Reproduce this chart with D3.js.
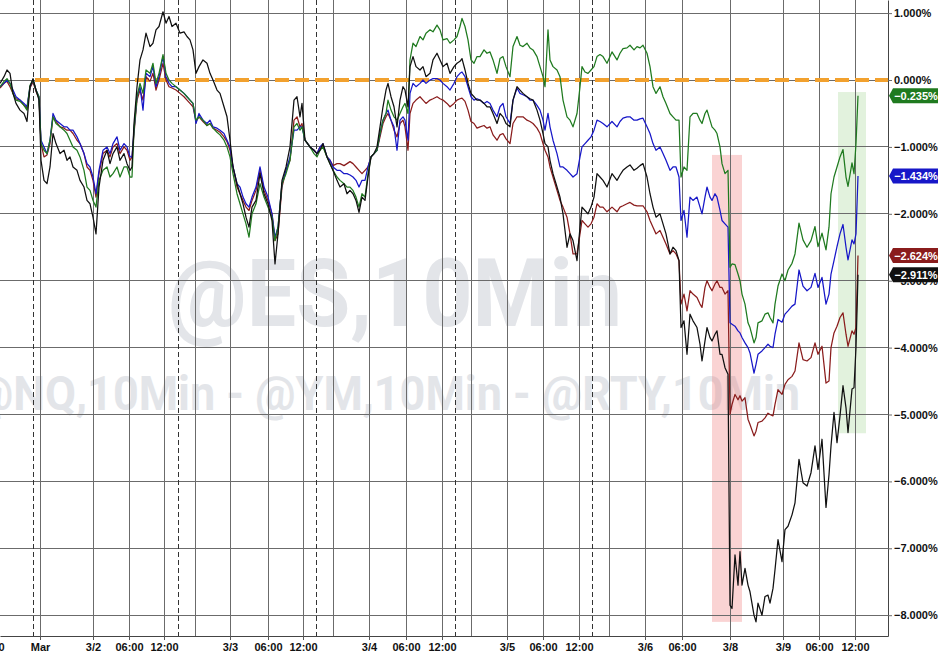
<!DOCTYPE html>
<html><head><meta charset="utf-8">
<script src="https://cdn.jsdelivr.net/npm/d3@7"></script>
<style>
html,body{margin:0;padding:0;background:#fff;}
svg{display:block;}
</style></head><body>
<svg id="chart" width="940" height="655"></svg>
<script>
// 10-minute bar index (session time, breaks removed)
const bars = [
  0,4,7,10,13,16,20,24,27,30,33,
  36,39,41,44,47,50,53,56,60,64,67,70,73,77,80,84,87,90,93,96,99,
  103,107,110,113,117,120,124,127,130,132,134,137,140,143,146,150,153,156,159,163,
  166,169,172,176,180,184,187,190,193,196,199,203,207,210,213,217,220,224,227,230,
  233,237,240,243,246,249,252,256,260,264,268,272,275,278,282,286,290,294,297,300,302,
  305,310,314,317,320,323,327,330,333,337,340,344,347,350,353,356,359,362,365,368,
  371,374,377,380,383,386,388,391,394,397,400,403,405,408,
  410,413,416,420,423,426,430,433,437,440,443,447,450,454,457,460,462,465,468,471,474,477,
  480,484,487,490,493,497,500,503,506,510,513,517,520,523,527,530,533,537,540,543,545,
  548,550,553,557,560,563,567,570,573,577,580,582,585,588,591,594,597,600,603,607,
  612,617,620,623,627,630,634,637,640,643,647,650,653,656,660,663,666,670,673,676,679,
  681,684,687,690,693,697,700,702,705,707,710,712,715,717,720,722,725,728,
  730,732,735,738,740,742,745,748,750,754,756,758,762,765,768,770,773,775,778,782,
  785,788,792,795,799,803,807,811,815,818,822,826,829,831,834,837,840,843,846,848,852,854,856,858
];

// % change series
const blackValues = [
  -0.05,0.05,0.15,0.10,-0.20,-0.35,-0.45,-0.50,-0.62,-0.10,0.02,
  -0.15,-0.30,-1.20,-1.50,-1.55,-1.30,-0.80,-0.95,-1.10,-1.05,-1.20,-1.15,-1.30,-1.35,-1.50,-1.60,-1.80,-1.85,-2.05,-2.30,-1.60,
  -1.20,-1.05,-1.25,-1.10,-1.00,-1.20,-1.10,-1.25,-1.35,-1.30,-0.65,-0.10,0.30,0.45,0.70,0.50,0.55,0.75,0.80,1.02,
  0.85,0.95,0.80,0.85,0.70,0.72,0.65,0.60,0.45,0.10,0.20,0.30,0.25,0.10,0.00,-0.15,-0.20,-0.40,-0.55,-0.90,
  -1.30,-1.55,-1.70,-1.85,-2.05,-2.20,-1.90,-1.80,-1.40,-1.70,-1.85,-2.10,-2.75,-2.30,-1.50,-1.30,-1.00,-0.30,-0.25,-0.55,-0.35,
  -0.90,-1.00,-1.05,-1.10,-1.05,-0.95,-1.15,-1.25,-1.35,-1.50,-1.60,-1.55,-1.70,-1.65,-1.70,-1.80,-1.98,-1.75,-1.80,-1.45,
  -1.15,-1.10,-1.00,-0.70,-0.40,-0.15,-0.05,-0.25,-0.40,-0.70,-0.30,-0.10,-0.15,-0.40,
  0.20,0.35,0.20,0.15,0.20,0.05,0.10,0.30,0.40,0.30,0.20,0.25,0.10,0.20,0.25,0.28,0.32,0.15,-0.05,-0.20,-0.25,-0.30,
  -0.30,-0.35,-0.40,-0.40,-0.50,-0.65,-0.50,-0.55,-0.65,-0.70,-0.30,-0.10,-0.15,-0.20,-0.25,-0.28,-0.30,-0.45,-0.60,-0.80,-0.95,
  -1.00,-1.20,-1.40,-1.60,-1.75,-2.00,-2.50,-2.30,-2.40,-2.70,-2.20,-1.90,-1.95,-2.00,-1.90,-1.75,-1.40,-1.45,-1.50,-1.60,
  -1.40,-1.50,-1.42,-1.35,-1.30,-1.27,-1.35,-1.32,-1.28,-1.25,-1.45,-1.70,-1.90,-2.05,-2.00,-2.15,-2.30,-2.60,-2.50,-2.55,-2.70,
  -3.70,-3.60,-4.10,-3.50,-3.60,-3.70,-3.95,-4.20,-3.90,-3.70,-3.85,-3.90,-3.80,-3.75,-4.10,-4.10,-4.30,-4.40,
  -7.85,-7.90,-7.10,-7.55,-7.05,-7.55,-7.30,-7.55,-7.65,-8.00,-8.10,-7.82,-8.00,-7.72,-7.70,-7.82,-7.60,-7.32,-6.87,-7.20,
  -6.72,-6.67,-6.50,-6.32,-5.67,-6.02,-6.07,-5.87,-5.47,-5.82,-5.37,-6.39,-5.90,-5.47,-4.97,-5.42,-5.02,-4.57,-4.90,-5.27,-4.62,-4.60,-4.00,-2.911
];
const blueValues = [
  -0.10,-0.05,0.00,-0.05,-0.15,-0.25,-0.30,-0.35,-0.40,-0.10,0.00,
  -0.15,-0.25,-0.90,-1.00,-1.10,-0.90,-0.50,-0.60,-0.65,-0.70,-0.70,-0.75,-0.75,-0.85,-0.95,-1.10,-1.25,-1.30,-1.45,-1.70,-1.35,
  -1.05,-1.00,-1.10,-0.95,-0.85,-1.05,-0.95,-1.00,-1.15,-1.15,-0.75,-0.25,-0.10,-0.45,0.10,0.05,0.20,-0.10,0.05,0.35,
  0.05,-0.05,-0.10,-0.10,-0.15,-0.20,-0.25,-0.30,-0.35,-0.65,-0.50,-0.60,-0.65,-0.60,-0.70,-0.72,-0.75,-0.80,-0.90,-1.00,
  -1.30,-1.55,-1.60,-1.75,-1.85,-1.90,-1.75,-1.60,-1.30,-1.60,-1.75,-2.00,-2.35,-2.20,-1.55,-1.35,-1.15,-0.75,-0.75,-0.70,-0.70,
  -0.90,-1.00,-1.05,-1.10,-1.00,-0.95,-1.15,-1.20,-1.30,-1.35,-1.35,-1.40,-1.40,-1.42,-1.45,-1.50,-1.60,-1.50,-1.50,-1.30,
  -1.15,-1.10,-1.05,-0.80,-0.60,-0.50,-0.45,-0.60,-0.70,-1.05,-0.60,-0.55,-0.60,-0.90,
  -0.20,-0.05,-0.10,-0.05,0.00,-0.05,0.00,0.02,0.02,0.00,-0.05,-0.10,-0.15,-0.05,0.05,0.10,0.12,0.05,-0.10,-0.25,-0.30,-0.28,
  -0.30,-0.35,-0.32,-0.35,-0.45,-0.55,-0.40,-0.35,-0.55,-0.65,-0.30,-0.12,-0.20,-0.22,-0.25,-0.30,-0.30,-0.38,-0.45,-0.60,-0.75,
  -0.50,-0.70,-0.90,-1.10,-1.30,-1.30,-1.35,-1.40,-1.45,-1.40,-1.15,-1.00,-0.95,-0.90,-0.85,-0.75,-0.60,-0.62,-0.65,-0.70,
  -0.62,-0.70,-0.62,-0.57,-0.55,-0.55,-0.60,-0.60,-0.58,-0.57,-0.70,-0.80,-0.95,-1.05,-1.00,-1.10,-1.20,-1.35,-1.30,-1.30,-1.45,
  -2.10,-1.95,-2.35,-1.75,-1.80,-1.75,-1.90,-2.00,-1.75,-1.60,-1.75,-1.80,-1.70,-1.75,-1.95,-2.10,-2.15,-2.20,
  -3.63,-3.65,-3.68,-3.75,-3.78,-3.85,-3.93,-4.00,-4.08,-4.38,-4.25,-4.10,-4.05,-4.00,-3.95,-3.98,-4.00,-3.80,-3.58,-3.62,
  -3.50,-3.45,-3.38,-3.35,-2.84,-3.08,-3.15,-3.10,-2.89,-3.10,-2.95,-3.35,-3.20,-2.90,-2.70,-2.49,-2.30,-2.16,-2.50,-2.69,-2.39,-2.45,-2.30,-1.434
];
const redValues = [
  -0.12,-0.05,-0.02,-0.10,-0.20,-0.28,-0.30,-0.38,-0.42,-0.12,-0.03,
  -0.17,-0.27,-0.95,-1.15,-1.12,-0.95,-0.55,-0.62,-0.70,-0.72,-0.75,-0.75,-0.80,-0.90,-0.95,-1.10,-1.30,-1.35,-1.50,-1.75,-1.40,
  -1.10,-1.05,-1.15,-1.00,-0.95,-1.10,-1.00,-1.05,-1.20,-1.15,-0.80,-0.30,-0.15,-0.30,0.05,-0.02,0.10,-0.15,0.00,0.25,
  0.00,-0.10,-0.12,-0.15,-0.20,-0.25,-0.30,-0.35,-0.40,-0.62,-0.55,-0.62,-0.68,-0.65,-0.72,-0.75,-0.78,-0.85,-0.92,-1.05,
  -1.30,-1.60,-1.70,-1.80,-1.90,-1.95,-1.80,-1.65,-1.35,-1.65,-1.80,-2.00,-2.40,-2.30,-1.60,-1.35,-1.20,-0.60,-0.55,-0.70,-0.65,
  -0.90,-1.00,-1.05,-1.10,-1.00,-0.98,-1.15,-1.20,-1.28,-1.25,-1.25,-1.28,-1.25,-1.22,-1.25,-1.30,-1.35,-1.40,-1.35,-1.30,
  -1.15,-1.10,-1.05,-0.85,-0.65,-0.55,-0.50,-0.60,-0.75,-0.85,-0.65,-0.60,-0.70,-1.05,
  -0.50,-0.35,-0.30,-0.25,-0.30,-0.35,-0.30,-0.28,-0.25,-0.28,-0.30,-0.35,-0.40,-0.35,-0.30,-0.28,-0.27,-0.32,-0.45,-0.62,-0.65,-0.72,
  -0.70,-0.68,-0.72,-0.70,-0.82,-0.90,-0.82,-0.80,-0.88,-0.95,-0.65,-0.55,-0.55,-0.55,-0.60,-0.62,-0.65,-0.72,-0.80,-0.95,-1.05,
  -1.15,-1.30,-1.45,-1.65,-1.80,-1.90,-2.05,-2.30,-2.60,-2.60,-2.30,-2.10,-2.15,-2.20,-2.15,-2.05,-1.85,-1.90,-1.90,-1.97,
  -1.90,-1.97,-1.90,-1.88,-1.85,-1.83,-1.87,-1.88,-1.88,-1.88,-1.97,-2.10,-2.20,-2.30,-2.25,-2.35,-2.45,-2.60,-2.55,-2.60,-2.70,
  -3.35,-3.20,-3.45,-3.15,-3.20,-3.25,-3.35,-3.40,-3.10,-3.00,-3.10,-3.15,-3.05,-3.00,-3.10,-3.10,-3.20,-3.15,
  -5.00,-4.85,-4.70,-4.78,-4.72,-4.80,-4.75,-5.07,-5.15,-5.32,-5.25,-5.12,-5.10,-5.05,-4.98,-5.00,-5.02,-4.85,-4.63,-4.70,
  -4.55,-4.48,-4.43,-4.35,-3.93,-4.18,-4.20,-4.15,-3.93,-4.10,-3.98,-4.53,-4.50,-4.00,-3.78,-3.68,-3.55,-3.48,-3.80,-3.98,-3.75,-3.80,-3.70,-2.624
];
const greenValues = [
  -0.10,-0.02,0.02,-0.05,-0.20,-0.30,-0.32,-0.38,-0.45,-0.08,0.00,
  -0.15,-0.25,-0.95,-1.05,-1.10,-0.90,-0.55,-0.65,-0.70,-0.75,-0.80,-0.90,-1.00,-1.05,-1.15,-1.35,-1.60,-1.65,-1.80,-1.90,-1.50,
  -1.35,-1.30,-1.45,-1.40,-1.30,-1.45,-1.30,-1.30,-1.45,-1.45,-0.75,-0.25,-0.05,-0.20,0.15,0.10,0.25,-0.05,0.10,0.38,
  0.10,0.00,-0.05,-0.10,-0.15,-0.20,-0.25,-0.30,-0.35,-0.60,-0.55,-0.60,-0.68,-0.65,-0.72,-0.78,-0.82,-0.90,-1.00,-1.15,
  -1.40,-1.70,-1.85,-2.00,-2.15,-2.35,-2.00,-1.85,-1.55,-1.75,-1.90,-2.05,-2.40,-2.20,-1.55,-1.40,-1.20,-0.70,-0.65,-0.75,-0.70,
  -0.90,-1.00,-1.10,-1.15,-1.05,-1.00,-1.15,-1.25,-1.35,-1.45,-1.50,-1.55,-1.60,-1.60,-1.65,-1.75,-1.90,-1.70,-1.75,-1.40,
  -1.15,-1.10,-1.05,-0.80,-0.60,-0.50,-0.30,-0.45,-0.55,-0.60,-0.50,-0.40,-0.35,-0.50,
  0.30,0.55,0.50,0.65,0.60,0.70,0.75,0.72,0.82,0.75,0.60,0.62,0.55,0.60,0.65,0.80,0.92,0.80,0.60,0.30,0.25,0.35,
  0.35,0.45,0.40,0.42,0.30,0.10,0.32,0.35,0.20,0.05,0.50,0.65,0.52,0.50,0.55,0.48,0.45,0.35,0.20,0.05,-0.10,
  0.75,0.30,0.20,0.15,0.05,-0.30,-0.55,-0.60,-0.70,-0.50,-0.10,0.20,0.12,0.10,0.15,0.20,0.35,0.38,0.35,0.25,
  0.42,0.30,0.40,0.47,0.48,0.52,0.45,0.50,0.48,0.52,0.40,0.20,-0.10,-0.20,-0.10,-0.25,-0.35,-0.50,-0.55,-0.60,-0.60,
  -1.45,-1.30,-1.35,-0.55,-0.50,-0.50,-0.60,-0.65,-0.50,-0.45,-0.60,-0.70,-0.75,-0.80,-1.00,-1.25,-1.40,-1.35,
  -2.80,-2.75,-2.76,-2.90,-3.00,-3.20,-3.35,-3.63,-3.70,-3.93,-3.85,-3.63,-3.60,-3.50,-3.48,-3.55,-3.63,-3.35,-3.08,-2.90,
  -3.00,-2.84,-2.74,-2.60,-2.14,-2.39,-2.50,-2.40,-2.19,-2.49,-2.29,-2.54,-2.20,-1.70,-1.45,-1.30,-1.15,-1.04,-1.45,-1.59,-1.24,-1.40,-0.95,-0.235
];

const seriesNames = ["green", "blue", "red", "black"];
const seriesColors = ["#1f7a1f", "#1717c8", "#8a1c1c", "#101010"];
const lastValues = [-0.235, -1.434, -2.624, -2.911];

// axis ticks
const yTicks = [1, 0, -1, -2, -3, -4, -5, -6, -7, -8];
const xTickBars = [-10, 40, 93, 129, 164, 230, 268, 303, 369, 406, 442, 507, 543, 579, 645, 682, 730, 783, 819, 855];
const xTickLabels = ["06:00", "Mar", "3/2", "06:00", "12:00", "3/3", "06:00", "12:00", "3/4", "06:00", "12:00", "3/5", "06:00", "12:00", "3/6", "06:00", "3/8", "3/9", "06:00", "12:00"];
const extraGridBars = [195, 333, 471, 609];          // 18:00 lines (unlabelled)
const sessionBreakBars = [33, 178, 316, 455, 592];   // dashed session breaks
const zeroLineStart = 35;
// highlight bands: [startBar, endBar, topValue, bottomValue]
const bandStart = [712, 838];
const bandEnd = [742, 866];
const bandTop = [-1.12, -0.18];
const bandBottom = [-8.1, -5.28];
const bandColors = ["rgba(238,110,110,0.30)", "rgba(140,205,120,0.25)"];

const watermarkMain = "@ES,10Min";
const watermarkSub = "@NQ,10Min - @YM,10Min - @RTY,10Min";

// ---------- drawing ----------
const svg = d3.select("#chart");
const W = 888, H = 636;
const x = d3.scaleLinear().domain([0, 888]).range([0, W]);
const y = d3.scaleLinear().domain([1.196, -8.311]).range([0, H]);

svg.append("rect").attr("width", 940).attr("height", 655).attr("fill", "#fff");

const plot = svg.append("g");
const clipId = "plotclip";
svg.append("defs").append("clipPath").attr("id", clipId)
  .append("rect").attr("x", 0).attr("y", 0).attr("width", W).attr("height", H);

// watermark
const wm = plot.append("g").attr("clip-path", `url(#${clipId})`)
  .attr("font-family", "Roboto, 'Liberation Sans', Arial, sans-serif")
  .attr("font-weight", 700).attr("fill", "#e3e5e9");
wm.append("text").attr("x", 168).attr("y", 326).attr("font-size", 94)
  .attr("textLength", 454).attr("lengthAdjust", "spacingAndGlyphs").text(watermarkMain);
wm.append("text").attr("x", -27).attr("y", 410).attr("font-size", 49)
  .attr("textLength", 827).attr("lengthAdjust", "spacingAndGlyphs").text(watermarkSub);

// highlight bands
plot.selectAll("rect.band").data(bandStart).join("rect").attr("class", "band")
  .attr("x", (d, i) => x(d))
  .attr("width", (d, i) => x(bandEnd[i]) - x(d))
  .attr("y", (d, i) => y(bandTop[i]))
  .attr("height", (d, i) => y(bandBottom[i]) - y(bandTop[i]))
  .attr("fill", (d, i) => bandColors[i]);

// horizontal grid
plot.selectAll("line.hg").data(yTicks).join("line").attr("class", "hg")
  .attr("x1", 0).attr("x2", W).attr("y1", d => y(d)).attr("y2", d => y(d))
  .attr("stroke", "#6b6b6b").attr("stroke-width", 1).attr("shape-rendering", "crispEdges");

// vertical grid (solid)
const solidBars = xTickBars.filter(b => b >= 0).concat(extraGridBars);
plot.selectAll("line.vg").data(solidBars).join("line").attr("class", "vg")
  .attr("x1", d => x(d)).attr("x2", d => x(d)).attr("y1", 0).attr("y2", H)
  .attr("stroke", "#6b6b6b").attr("stroke-width", 1).attr("shape-rendering", "crispEdges");
// session breaks (dashed)
plot.selectAll("line.sb").data(sessionBreakBars).join("line").attr("class", "sb")
  .attr("x1", d => x(d)).attr("x2", d => x(d)).attr("y1", 0).attr("y2", H + 3)
  .attr("stroke", "#333").attr("stroke-width", 1).attr("stroke-dasharray", "5,3")
  .attr("shape-rendering", "crispEdges");

// zero reference line
plot.append("line").attr("x1", x(zeroLineStart)).attr("x2", W)
  .attr("y1", y(0)).attr("y2", y(0))
  .attr("stroke", "#f2a12e").attr("stroke-width", 4).attr("stroke-dasharray", "14,6");

// series
const allValues = [greenValues, blueValues, redValues, blackValues];
const line = d3.line().x((d, i) => x(bars[i])).y(d => y(d));
const lines = plot.append("g").attr("clip-path", `url(#${clipId})`);
// draw order: red, blue, green, black on top? reference shows black visible over others
const order = [2, 1, 0, 3];
order.forEach(k => {
  lines.append("path").datum(allValues[k])
    .attr("d", line).attr("fill", "none")
    .attr("stroke", seriesColors[k]).attr("stroke-width", 1.25)
    .attr("stroke-linejoin", "round");
});

// axes
const fontFam = "'Liberation Sans', Arial, sans-serif";
const yAxis = d3.axisRight(y).tickValues(yTicks).tickSize(4).tickSizeOuter(0).tickPadding(2)
  .tickFormat(d => d3.format(".3f")(d) + "%");
const gy = svg.append("g").attr("transform", `translate(${W},0)`).call(yAxis);
gy.select(".domain").attr("stroke", "#444");
gy.selectAll(".tick line").attr("stroke", "#6b6b6b");
gy.selectAll(".tick text").attr("font-family", fontFam).attr("font-size", 11)
  .attr("font-weight", 700).attr("fill", "#111");

const xAxis = d3.axisBottom(x).tickValues(xTickBars).tickSize(4).tickSizeOuter(0)
  .tickFormat((d, i) => xTickLabels[i]);
const gx = svg.append("g").attr("transform", `translate(0,${H})`).call(xAxis);
gx.select(".domain").attr("stroke", "#444");
gx.selectAll(".tick line").attr("stroke", "#555");
gx.selectAll(".tick text").attr("font-family", fontFam).attr("font-size", 11)
  .attr("font-weight", 700).attr("fill", "#111");

// last-value tags
const tags = svg.selectAll("g.tag").data(lastValues).join("g").attr("class", "tag")
  .attr("transform", d => `translate(${W + 1},${y(d)})`);
tags.append("path").attr("d", "M0,0 L4,-7.5 L49,-7.5 L49,7.5 L4,7.5 Z")
  .attr("fill", (d, i) => seriesColors[i]);
tags.append("text").attr("x", 27).attr("dy", "0.36em").attr("text-anchor", "middle")
  .attr("font-family", fontFam).attr("font-size", 11).attr("font-weight", 700)
  .attr("fill", "#fff").text(d => d3.format(".3f")(d) + "%");
</script>
</body></html>
